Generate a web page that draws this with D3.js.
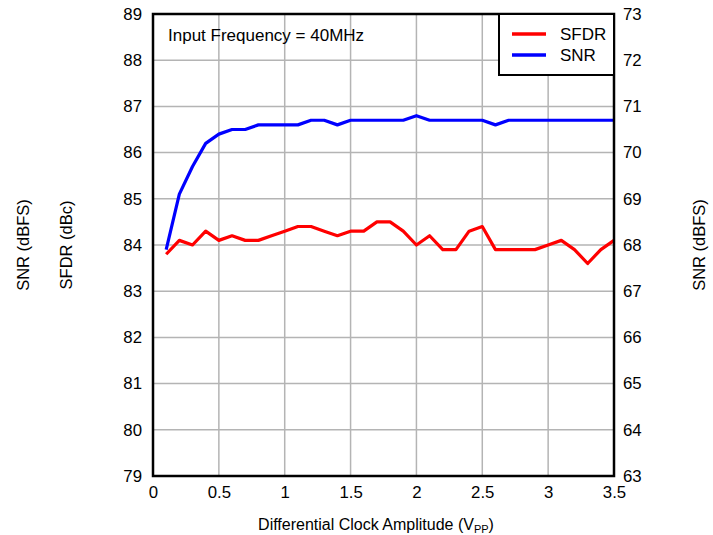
<!DOCTYPE html>
<html lang="en">
<head>
  <meta charset="UTF-8">
  <title>SFDR and SNR vs Clock Amplitude</title>
  <style>
    body { margin: 0; background: #fff; }
    text { font-family: "Liberation Sans", Arial, sans-serif; fill: #000; }
    .tick text { font-size: 16.8px; }
    .grid line { stroke: #b4b4b4; stroke-width: 1.5px; }
    .series { fill: none; stroke-width: 3.2px; stroke-linejoin: round; }
  </style>
</head>
<body>
  <svg width="713" height="535"></svg>

  <script src="https://d3js.org/d3.v7.min.js"></script>
  <script>
    // x values: clock amplitude in Vpp
    var amplitude = [0.1, 0.2, 0.3, 0.4, 0.5, 0.6, 0.7, 0.8, 0.9, 1.0,
                     1.1, 1.2, 1.3, 1.4, 1.5, 1.6, 1.7, 1.8, 1.9, 2.0,
                     2.1, 2.2, 2.3, 2.4, 2.5, 2.6, 2.7, 2.8, 2.9, 3.0,
                     3.1, 3.2, 3.3, 3.4, 3.5];
    // SFDR in dBc (left axis)
    var sfdr = [83.8, 84.1, 84.0, 84.3, 84.1, 84.2, 84.1, 84.1, 84.2, 84.3,
                84.4, 84.4, 84.3, 84.2, 84.3, 84.3, 84.5, 84.5, 84.3, 84.0,
                84.2, 83.9, 83.9, 84.3, 84.4, 83.9, 83.9, 83.9, 83.9, 84.0,
                84.1, 83.9, 83.6, 83.9, 84.1];
    // SNR in dBFS (right axis)
    var snr = [67.9, 69.1, 69.7, 70.2, 70.4, 70.5, 70.5, 70.6, 70.6, 70.6,
               70.6, 70.7, 70.7, 70.6, 70.7, 70.7, 70.7, 70.7, 70.7, 70.8,
               70.7, 70.7, 70.7, 70.7, 70.7, 70.6, 70.7, 70.7, 70.7, 70.7,
               70.7, 70.7, 70.7, 70.7, 70.7];

    var xTicks = [0, 0.5, 1, 1.5, 2, 2.5, 3, 3.5];
    var leftTicks = [79, 80, 81, 82, 83, 84, 85, 86, 87, 88, 89];
    var rightTicks = [63, 64, 65, 66, 67, 68, 69, 70, 71, 72, 73];
    var legendNames = ["SFDR", "SNR"];
    var legendColors = ["#ff0000", "#0000ff"];

    var svg = d3.select("svg");
    var pLeft = 153, pRight = 614, pTop = 14, pBottom = 476;

    var x = d3.scaleLinear().domain([0, 3.5]).range([pLeft, pRight]);
    var yL = d3.scaleLinear().domain([79, 89]).range([pBottom, pTop]);
    var yR = d3.scaleLinear().domain([63, 73]).range([pBottom, pTop]);

    // grid
    var grid = svg.append("g").attr("class", "grid");
    grid.selectAll("line.v")
        .data(xTicks.slice(1, -1))
        .enter().append("line")
        .attr("x1", d => x(d)).attr("x2", d => x(d))
        .attr("y1", pTop).attr("y2", pBottom);
    grid.selectAll("line.h")
        .data(leftTicks.slice(1, -1))
        .enter().append("line")
        .attr("x1", pLeft).attr("x2", pRight)
        .attr("y1", d => yL(d)).attr("y2", d => yL(d));

    // axes
    var xAxis = svg.append("g")
        .attr("transform", "translate(0," + pBottom + ")")
        .call(d3.axisBottom(x).tickValues(xTicks).tickSize(0).tickPadding(10).tickFormat(d3.format("")));
    var lAxis = svg.append("g")
        .attr("transform", "translate(" + pLeft + ",0)")
        .call(d3.axisLeft(yL).tickValues(leftTicks).tickSize(0).tickPadding(11));
    var rAxis = svg.append("g")
        .attr("transform", "translate(" + pRight + ",0)")
        .call(d3.axisRight(yR).tickValues(rightTicks).tickSize(0).tickPadding(9));
    [xAxis, lAxis, rAxis].forEach(function(a) { a.select(".domain").remove(); });

    // lines
    var sfdrLine = d3.line().x((d, i) => x(amplitude[i])).y(d => yL(d));
    var snrLine = d3.line().x((d, i) => x(amplitude[i])).y(d => yR(d));

    svg.append("path").datum(sfdr).attr("class", "series")
        .attr("stroke", legendColors[0]).attr("d", sfdrLine);
    svg.append("path").datum(snr).attr("class", "series")
        .attr("stroke", legendColors[1]).attr("d", snrLine);

    // frame
    svg.append("rect")
        .attr("x", pLeft).attr("y", pTop)
        .attr("width", pRight - pLeft).attr("height", pBottom - pTop)
        .attr("fill", "none").attr("stroke", "#000").attr("stroke-width", 2.5);

    // legend
    var legend = svg.append("g");
    legend.append("rect")
        .attr("x", 499).attr("y", pTop)
        .attr("width", pRight - 499).attr("height", 61)
        .attr("fill", "#fff").attr("stroke", "#000").attr("stroke-width", 2);
    var items = legend.selectAll("g.item")
        .data(legendNames)
        .enter().append("g")
        .attr("transform", (d, i) => "translate(0," + (34 + i * 21) + ")");
    items.append("line")
        .attr("x1", 512).attr("x2", 546)
        .attr("stroke", (d, i) => legendColors[i])
        .attr("stroke-width", 3.5);
    items.append("text")
        .attr("x", 560).attr("dy", "0.35em")
        .style("font-size", "17px")
        .text(d => d);

    // annotation
    svg.append("text")
        .attr("x", 168).attr("y", 41)
        .style("font-size", "17px")
        .text("Input Frequency = 40MHz");

    // axis titles
    function vLabel(cx, txt) {
      svg.append("text")
          .attr("transform", "translate(" + cx + ",245) rotate(-90)")
          .attr("text-anchor", "middle")
          .style("font-size", "16.5px")
          .text(txt);
    }
    vLabel(29, "SNR (dBFS)");
    vLabel(72, "SFDR (dBc)");
    vLabel(705, "SNR (dBFS)");

    var xt = svg.append("text")
        .attr("x", 376).attr("y", 530)
        .attr("text-anchor", "middle")
        .style("font-size", "16px");
    xt.append("tspan").text("Differential Clock Amplitude (V");
    xt.append("tspan").attr("dy", 3).style("font-size", "11px").text("PP");
    xt.append("tspan").attr("dy", -3).text(")");
  </script>
</body>
</html>
